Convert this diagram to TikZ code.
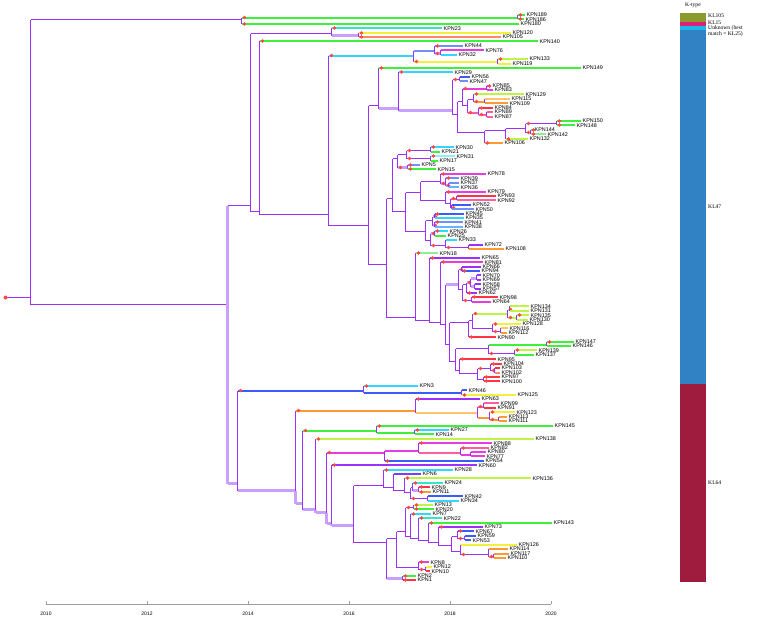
\documentclass[tikz,border=0pt]{standalone}
\usepackage{fontspec}
\setmainfont{Liberation Serif}
\newfontfamily\lsans{Liberation Sans}
\definecolor{cpv}{HTML}{9B30FF}
\definecolor{clav}{HTML}{C9A0FF}
\definecolor{cgreen}{HTML}{3CF03C}
\definecolor{clgreen}{HTML}{90EE90}
\definecolor{cygreen}{HTML}{BFF542}
\definecolor{cyellow}{HTML}{F2F03C}
\definecolor{clor}{HTML}{FFC470}
\definecolor{corange}{HTML}{FF9A33}
\definecolor{csalmon}{HTML}{FF8866}
\definecolor{cred}{HTML}{FF3344}
\definecolor{cpink}{HTML}{FF5FA0}
\definecolor{cmag}{HTML}{E83CE0}
\definecolor{cblue}{HTML}{3B5BFF}
\definecolor{clblue}{HTML}{6F8FFF}
\definecolor{csky}{HTML}{66B3FF}
\definecolor{ccyan}{HTML}{33D6FF}
\definecolor{clcyan}{HTML}{8FF0FF}
\definecolor{cteal}{HTML}{33E6C8}
\definecolor{cviol}{HTML}{7B3DFF}
\definecolor{cdot}{HTML}{FF4848}
\definecolor{kA}{HTML}{8B9A2D}
\definecolor{kB}{HTML}{DD1F7C}
\definecolor{kC}{HTML}{1FB6E9}
\definecolor{kD}{HTML}{3182C4}
\definecolor{kE}{HTML}{A01C3E}
\tikzset{
  vl/.style={draw=cpv,line width=1pt},
  pv/.style={draw=cpv,line width=1pt},
  lav/.style={draw=clav,line width=2.2pt},
  tw/.style={line width=2pt},
  eG/.style={draw=cgreen,tw}, eLG/.style={draw=clgreen,tw},
  eYG/.style={draw=cygreen,tw}, eY/.style={draw=cyellow,tw},
  eLO/.style={draw=clor,tw}, eOR/.style={draw=corange,tw},
  eSA/.style={draw=csalmon,tw}, eR/.style={draw=cred,tw},
  ePK/.style={draw=cpink,tw}, eMG/.style={draw=cmag,tw},
  eB/.style={draw=cblue,tw}, eLB/.style={draw=clblue,tw},
  eSK/.style={draw=csky,tw}, eC/.style={draw=ccyan,tw},
  eLC/.style={draw=clcyan,tw}, eTL/.style={draw=cteal,tw},
  eVI/.style={draw=cviol,tw}, ePU/.style={draw=cpv,tw},
  lab/.style={anchor=west,inner sep=0pt,font=\lsans\fontsize{5.4}{6}\selectfont},
  klab/.style={anchor=west,inner sep=0pt,font=\fontsize{5.6}{6}\selectfont},
  axlab/.style={inner sep=0pt,font=\lsans\fontsize{5}{6}\selectfont},
}
\newcommand\T[3]{\coordinate (t#1) at (#3,{round(15+(#1-1)*4.414)});\node[lab] (l#1) at ({#3+1.5},{15+(#1-1)*4.414}) {#2};}
\newcommand\N[4]{\coordinate (#1) at ({#2+0.5},{round(15+((#3+#4)/2-1)*4.414)+0.5});}
\newcommand\E[3]{\draw[vl] (#1) -- (#1 |- #2);\draw[#3] (#1 |- #2) -- (#2);}
\newcommand\EV[4]{\draw[#3] (#1) -- (#1 |- #2);\draw[#4] (#1 |- #2) -- (#2);}
\newcommand\ED[3]{\E{#1}{#2}{#3}\fill[cdot] (#1 |- #2) ++(3,0) circle[radius=1.8pt];}
\begin{document}
\begin{tikzpicture}[x=1pt,y=-1pt]
\useasboundingbox (0,0) rectangle (760,621);
\fill[white] (0,0) rectangle (760,621);
% tips
\T{1}{KPN189}{525}\T{2}{KPN186}{524}\T{3}{KPN180}{519}\T{4}{KPN23}{442}
\T{5}{KPN120}{511}\T{6}{KPN105}{501}\T{7}{KPN140}{538}\T{8}{KPN44}{463}
\T{9}{KPN76}{484}\T{10}{KPN32}{457}\T{11}{KPN133}{528}\T{12}{KPN119}{511}
\T{13}{KPN149}{581}\T{14}{KPN29}{453}\T{15}{KPN56}{470}\T{16}{KPN47}{468}
\T{17}{KPN85}{491}\T{18}{KPN83}{493}\T{19}{KPN129}{524}\T{20}{KPN115}{510}
\T{21}{KPN109}{508}\T{22}{KPN84}{493}\T{23}{KPN89}{493}\T{24}{KPN87}{493}
\T{25}{KPN150}{581}\T{26}{KPN148}{575}\T{27}{KPN144}{533}\T{28}{KPN142}{546}
\T{29}{KPN132}{528}\T{30}{KPN106}{503}\T{31}{KPN30}{454}\T{32}{KPN21}{440}
\T{33}{KPN31}{455}\T{34}{KPN17}{438}\T{35}{KPN5}{420}\T{36}{KPN15}{436}
\T{37}{KPN78}{486}\T{38}{KPN39}{459}\T{39}{KPN37}{459}\T{40}{KPN36}{459}
\T{41}{KPN79}{486}\T{42}{KPN93}{496}\T{43}{KPN92}{496}\T{44}{KPN52}{471}
\T{45}{KPN50}{474}\T{46}{KPN45}{464}\T{47}{KPN35}{464}\T{48}{KPN41}{463}
\T{49}{KPN38}{463}\T{50}{KPN26}{448}\T{51}{KPN25}{446}\T{52}{KPN33}{457}
\T{53}{KPN72}{483}\T{54}{KPN108}{504}\T{55}{KPN18}{438}\T{56}{KPN65}{480}
\T{57}{KPN81}{483}\T{58}{KPN66}{481}\T{59}{KPN94}{480}\T{60}{KPN70}{481}
\T{61}{KPN69}{481}\T{62}{KPN58}{481}\T{63}{KPN57}{481}\T{64}{KPN62}{477}
\T{65}{KPN98}{498}\T{66}{KPN64}{491}\T{67}{KPN134}{529}\T{68}{KPN131}{529}
\T{69}{KPN135}{529}\T{70}{KPN130}{528}\T{71}{KPN128}{521}\T{72}{KPN116}{508}
\T{73}{KPN112}{507}\T{74}{KPN90}{496}\T{75}{KPN147}{574}\T{76}{KPN146}{571}
\T{77}{KPN139}{537}\T{78}{KPN137}{534}\T{79}{KPN95}{496}\T{80}{KPN104}{502}
\T{81}{KPN103}{500}\T{82}{KPN102}{500}\T{83}{KPN97}{500}\T{84}{KPN100}{500}
\T{85}{KPN3}{418}\T{86}{KPN46}{467}\T{87}{KPN125}{516}\T{88}{KPN63}{480}
\T{89}{KPN99}{499}\T{90}{KPN91}{496}\T{91}{KPN123}{515}\T{92}{KPN113}{507}
\T{93}{KPN111}{507}\T{94}{KPN145}{553}\T{95}{KPN27}{449}\T{96}{KPN14}{434}
\T{97}{KPN138}{534}\T{98}{KPN88}{492}\T{99}{KPN82}{489}\T{100}{KPN80}{486}
\T{101}{KPN77}{485}\T{102}{KPN54}{484}\T{103}{KPN60}{477}\T{104}{KPN28}{453}
\T{105}{KPN6}{421}\T{106}{KPN136}{531}\T{107}{KPN24}{443}\T{108}{KPN9}{430}
\T{109}{KPN11}{431}\T{110}{KPN42}{463}\T{111}{KPN34}{459}\T{112}{KPN13}{433}
\T{113}{KPN20}{434}\T{114}{KPN7}{431}\T{115}{KPN22}{442}\T{116}{KPN143}{552}
\T{117}{KPN73}{483}\T{118}{KPN67}{474}\T{119}{KPN59}{476}\T{120}{KPN53}{471}
\T{121}{KPN126}{517}\T{122}{KPN114}{508}\T{123}{KPN117}{509}\T{124}{KPN110}{506}
\T{125}{KPN8}{429}\T{126}{KPN12}{432}\T{127}{KPN10}{430}\T{128}{KPN2}{416}
\T{129}{KPN1}{416}
% internal nodes
\N{R}{5}{1}{129}\N{NO}{30}{1}{129}\N{TA}{241}{1}{3}\N{aa}{517}{1}{2}
\N{X}{227}{4}{129}\N{U}{250}{4}{84}\N{UA}{331}{4}{6}\N{nfs}{358}{5}{6}
\N{UB}{259}{7}{84}\N{UC}{328}{8}{84}\N{CF}{413}{8}{12}\N{nea}{434}{8}{10}
\N{neb}{440}{9}{10}\N{nec}{497}{11}{12}\N{M}{368}{13}{84}\N{UD}{378}{13}{30}
\N{WA}{398}{14}{30}\N{WB}{452}{15}{30}\N{nfa}{459}{15}{16}\N{A}{457}{17}{30}
\N{AA}{462}{17}{24}\N{nga}{486}{17}{18}\N{AB}{467}{19}{24}\N{ngb}{473}{19}{21}
\N{ngc}{484}{20}{21}\N{ngd}{478}{22}{24}\N{nge}{486}{23}{24}\N{AC}{484}{25}{30}
\N{B}{505}{25}{29}\N{C}{525}{25}{28}\N{nha}{556}{25}{26}\N{nhb}{530}{27}{28}
\N{WC}{386}{31}{84}\N{PA}{392}{31}{54}\N{QA}{397}{31}{36}\N{nia}{406}{31}{34}
\N{nib}{430}{31}{32}\N{nic}{430}{33}{34}\N{nid}{407}{35}{36}\N{QB}{405}{37}{54}
\N{RA}{420}{37}{45}\N{nja}{440}{37}{40}\N{njb}{445}{38}{40}\N{njc}{448}{39}{40}
\N{njd}{445}{41}{45}\N{nje}{450}{42}{45}\N{njf}{456}{42}{43}\N{njg}{451}{44}{45}
\N{RB}{425}{46}{54}\N{SA}{432}{46}{49}\N{nka}{434}{46}{47}\N{nkb}{434}{48}{49}
\N{SB}{430}{50}{54}\N{nkc}{434}{50}{51}\N{nkd}{445}{52}{54}\N{nke}{468}{53}{54}
\N{PB}{415}{55}{84}\N{PC}{429}{56}{84}\N{PD}{440}{57}{84}\N{PE}{445}{58}{84}
\N{TTa}{458}{58}{66}\N{nla}{461}{58}{59}\N{TTb}{462}{60}{66}\N{nlb}{466}{60}{64}
\N{nlc}{470}{60}{63}\N{nld}{476}{60}{61}\N{nle}{474}{62}{63}\N{nlf}{471}{65}{66}
\N{TTc}{449}{67}{84}\N{VA}{468}{67}{74}\N{VB}{472}{67}{73}\N{nma}{507}{67}{70}
\N{nmb}{509}{67}{68}\N{nmc}{516}{69}{70}\N{nmd}{492}{71}{73}\N{nme}{500}{72}{73}
\N{VC}{455}{75}{84}\N{VD}{488}{75}{78}\N{nna}{546}{75}{76}\N{nnb}{514}{77}{78}
\N{VE}{459}{79}{84}\N{nnc}{477}{80}{84}\N{nnd}{490}{80}{82}\N{nne}{494}{81}{82}
\N{nnf}{483}{83}{84}
\N{L}{237}{85}{129}\N{CT}{363}{85}{87}\N{noa}{461}{86}{87}\N{LB}{295}{88}{129}
\N{O}{415}{88}{93}\N{OB}{477}{89}{93}\N{npa}{483}{89}{90}\N{npb}{489}{91}{93}
\N{npc}{498}{92}{93}\N{LC}{302}{94}{129}\N{G}{376}{94}{96}\N{nqa}{414}{95}{96}
\N{LD}{315}{97}{129}\N{LE}{326}{98}{129}\N{H}{384}{98}{102}\N{HA}{418}{98}{101}
\N{nra}{460}{99}{101}\N{nrb}{470}{100}{101}\N{LF}{331}{103}{129}\N{LG}{353}{104}{129}
\N{KA}{383}{104}{111}\N{KB}{393}{105}{111}\N{KC}{404}{106}{111}\N{KD}{410}{107}{111}
\N{nsa}{412}{107}{109}\N{nsb}{418}{108}{109}\N{nsc}{427}{110}{111}
\N{KE}{386}{112}{129}\N{KF}{396}{112}{127}\N{KG}{405}{112}{124}\N{nta}{413}{112}{113}
\N{KH}{410}{114}{124}\N{KI}{418}{115}{124}\N{KJ}{428}{116}{124}\N{KK}{438}{117}{124}
\N{KL}{451}{118}{124}\N{nua}{457}{118}{120}\N{nub}{464}{119}{120}\N{nuc}{460}{121}{124}
\N{nud}{488}{122}{124}\N{nue}{493}{123}{124}\N{nva}{418}{125}{127}\N{nvb}{425}{126}{127}
\N{nvc}{402}{128}{129}
% root
\draw[pv] (R) -- (NO);
\fill[cdot] (R) circle[radius=2pt];
\E{NO}{TA}{pv}\E{NO}{X}{pv}
\ED{TA}{aa}{eG}\ED{TA}{t3}{eG}\ED{aa}{t1}{eG}\ED{aa}{t2}{eG}
\EV{X}{U}{lav}{pv}\EV{X}{L}{lav}{lav}
\E{U}{UA}{pv}\E{U}{UB}{pv}
\ED{UA}{t4}{eTL}\E{UA}{nfs}{lav}\ED{nfs}{t5}{eY}\ED{nfs}{t6}{eSA}
\ED{UB}{t7}{eG}\E{UB}{UC}{pv}
\ED{UC}{CF}{eC}\E{UC}{M}{pv}
\E{CF}{nea}{eLB}\ED{CF}{nec}{eY}
\ED{nea}{t8}{eLB}\ED{nea}{neb}{lav}\E{neb}{t9}{eMG}\E{neb}{t10}{eC}
\ED{nec}{t11}{eYG}\E{nec}{t12}{eY}
\E{M}{UD}{pv}\E{M}{WC}{pv}
\ED{UD}{t13}{eG}\E{UD}{WA}{lav}
\ED{WA}{t14}{eC}\E{WA}{WB}{lav}
\ED{WB}{nfa}{pv}\E{WB}{A}{pv}
\E{nfa}{t15}{eB}\E{nfa}{t16}{eLB}
\E{A}{AA}{pv}\E{A}{AC}{pv}
\ED{AA}{nga}{eMG}\E{AA}{AB}{pv}
\ED{nga}{t17}{eMG}\E{nga}{t18}{eMG}
\E{AB}{ngb}{pv}\ED{AB}{ngd}{ePK}
\ED{ngb}{t19}{eYG}\ED{ngb}{ngc}{eOR}\E{ngc}{t20}{eLO}\E{ngc}{t21}{eOR}
\ED{ngd}{t22}{eR}\ED{ngd}{nge}{ePK}\E{nge}{t23}{ePK}\E{nge}{t24}{ePK}
\E{AC}{B}{pv}\ED{AC}{t30}{eOR}
\E{B}{C}{pv}\ED{B}{t29}{eYG}
\ED{C}{nha}{pv}\ED{C}{nhb}{pv}
\ED{nha}{t25}{eG}\ED{nha}{t26}{eG}\ED{nhb}{t27}{eG}\ED{nhb}{t28}{eLG}
\E{WC}{PA}{pv}\E{WC}{PB}{pv}
\E{PA}{QA}{pv}\E{PA}{QB}{pv}
\E{QA}{nia}{pv}\ED{QA}{nid}{lav}
\ED{nia}{nib}{pv}\ED{nia}{nic}{pv}
\ED{nib}{t31}{eC}\E{nib}{t32}{eG}\ED{nic}{t33}{eLC}\E{nic}{t34}{eG}
\ED{nid}{t35}{eLB}\ED{nid}{t36}{eG}
\E{QB}{RA}{pv}\E{QB}{RB}{pv}
\E{RA}{nja}{pv}\E{RA}{njd}{pv}
\ED{nja}{t37}{eMG}\ED{nja}{njb}{lav}
\ED{njb}{t38}{eLB}\ED{njb}{njc}{lav}\E{njc}{t39}{eLB}\E{njc}{t40}{eSK}
\ED{njd}{t41}{eMG}\E{njd}{nje}{pv}
\ED{nje}{njf}{ePK}\ED{nje}{njg}{lav}
\E{njf}{t42}{eR}\E{njf}{t43}{ePK}\E{njg}{t44}{eB}\E{njg}{t45}{eLB}
\E{RB}{SA}{pv}\E{RB}{SB}{pv}
\ED{SA}{nka}{lav}\ED{SA}{nkb}{lav}
\ED{nka}{t46}{eB}\E{nka}{t47}{eC}\ED{nkb}{t48}{eLB}\E{nkb}{t49}{eSK}
\ED{SB}{nkc}{lav}\ED{SB}{nkd}{pv}
\ED{nkc}{t50}{eC}\E{nkc}{t51}{eG}
\E{nkd}{t52}{eC}\ED{nkd}{nke}{pv}\E{nke}{t53}{ePU}\E{nke}{t54}{eOR}
\ED{PB}{t55}{eLG}\E{PB}{PC}{pv}
\ED{PC}{t56}{ePU}\E{PC}{PD}{pv}
\ED{PD}{t57}{eMG}\E{PD}{PE}{pv}
\E{PE}{TTa}{lav}\E{PE}{TTc}{pv}
\ED{TTa}{nla}{pv}\E{TTa}{TTb}{pv}
\E{nla}{t58}{ePU}\ED{nla}{t59}{eB}
\E{TTb}{nlb}{pv}\ED{TTb}{nlf}{pv}
\ED{nlb}{nlc}{lav}\ED{nlb}{t64}{ePU}
\E{nlc}{nld}{lav}\E{nlc}{nle}{lav}
\E{nld}{t60}{ePU}\E{nld}{t61}{ePU}\E{nle}{t62}{ePU}\E{nle}{t63}{ePU}
\ED{nlf}{t65}{eR}\E{nlf}{t66}{eMG}
\E{TTc}{VA}{pv}\E{TTc}{VC}{pv}
\E{VA}{VB}{pv}\ED{VA}{t74}{eR}
\ED{VB}{nma}{eYG}\E{VB}{nmd}{pv}
\ED{nma}{nmb}{eYG}\ED{nma}{nmc}{eYG}
\E{nmb}{t67}{eYG}\E{nmb}{t68}{eYG}\ED{nmc}{t69}{eYG}\E{nmc}{t70}{eYG}
\ED{nmd}{t71}{eY}\ED{nmd}{nme}{pv}\E{nme}{t72}{eLO}\E{nme}{t73}{eOR}
\E{VC}{VD}{pv}\E{VC}{VE}{pv}
\E{VD}{nna}{eG}\ED{VD}{nnb}{pv}
\ED{nna}{t75}{eG}\E{nna}{t76}{eG}\ED{nnb}{t77}{eYG}\E{nnb}{t78}{eG}
\ED{VE}{t79}{eR}\E{VE}{nnc}{pv}
\ED{nnc}{nnd}{pv}\E{nnc}{nnf}{pv}
\ED{nnd}{t80}{eR}\ED{nnd}{nne}{pv}\E{nne}{t81}{eR}\E{nne}{t82}{eSA}
\ED{nnf}{t83}{eR}\ED{nnf}{t84}{eR}
\ED{L}{CT}{eB}\E{L}{LB}{lav}
\ED{CT}{t85}{eC}\E{CT}{noa}{eB}\E{noa}{t86}{eB}\ED{noa}{t87}{eY}
\ED{LB}{O}{eOR}\EV{LB}{LC}{lav}{lav}
\ED{O}{t88}{ePU}\E{O}{OB}{eLO}
\ED{OB}{npa}{ePK}\E{OB}{npb}{eOR}
\E{npa}{t89}{ePK}\E{npa}{t90}{eR}
\ED{npb}{t91}{eY}\ED{npb}{npc}{eOR}\E{npc}{t92}{eOR}\E{npc}{t93}{eOR}
\ED{LC}{G}{eG}\E{LC}{LD}{lav}
\ED{G}{t94}{eG}\E{G}{nqa}{eG}\ED{nqa}{t95}{eC}\E{nqa}{t96}{eG}
\ED{LD}{t97}{eYG}\EV{LD}{LE}{lav}{lav}
\ED{LE}{H}{eMG}\EV{LE}{LF}{lav}{lav}
\E{H}{HA}{eMG}\ED{H}{t102}{eB}
\ED{HA}{t98}{eMG}\E{HA}{nra}{ePK}
\ED{nra}{t99}{ePK}\E{nra}{nrb}{eMG}\E{nrb}{t100}{eMG}\E{nrb}{t101}{eMG}
\ED{LF}{t103}{ePU}\EV{LF}{LG}{lav}{lav}
\E{LG}{KA}{pv}\E{LG}{KE}{pv}
\ED{KA}{t104}{eC}\E{KA}{KB}{pv}
\E{KB}{t105}{eVI}\E{KB}{KC}{pv}
\ED{KC}{t106}{eYG}\E{KC}{KD}{pv}
\E{KD}{nsa}{pv}\ED{KD}{nsc}{pv}
\ED{nsa}{t107}{eTL}\E{nsa}{nsb}{lav}
\ED{nsb}{t108}{eR}\ED{nsb}{t109}{eOR}
\E{nsc}{t110}{eB}\E{nsc}{t111}{eC}
\E{KE}{KF}{pv}\E{KE}{nvc}{lav}
\E{KF}{KG}{pv}\E{KF}{nva}{pv}
\ED{KG}{nta}{pv}\E{KG}{KH}{pv}
\ED{nta}{t112}{eYG}\ED{nta}{t113}{eG}
\ED{KH}{t114}{eC}\E{KH}{KI}{pv}
\ED{KI}{t115}{eTL}\E{KI}{KJ}{pv}
\ED{KJ}{t116}{eG}\E{KJ}{KK}{pv}
\ED{KK}{t117}{ePU}\E{KK}{KL}{pv}
\E{KL}{nua}{pv}\E{KL}{nuc}{pv}
\ED{nua}{t118}{eB}\ED{nua}{nub}{pv}\E{nub}{t119}{eB}\E{nub}{t120}{eB}
\E{nuc}{t121}{eY}\ED{nuc}{nud}{pv}
\E{nud}{t122}{eOR}\ED{nud}{nue}{eOR}\E{nue}{t123}{eOR}\E{nue}{t124}{eOR}
\ED{nva}{t125}{eMG}\ED{nva}{nvb}{pv}\E{nvb}{t126}{eY}\E{nvb}{t127}{eR}
\ED{nvc}{t128}{eG}\ED{nvc}{t129}{eR}
% K-type column
\node[inner sep=0pt,font=\fontsize{5.6}{6}\selectfont] (kt) at (693,5) {K-type};
\fill[kA] (680,12.8) rectangle (706,21.6);
\fill[kB] (680,21.6) rectangle (706,26.0);
\fill[kC] (680,26.0) rectangle (706,30.4);
\fill[kD] (680,30.4) rectangle (706,383.6);
\fill[kE] (680,383.6) rectangle (706,582.2);
\node[klab] (k1) at (708,16) {KL105};
\node[klab] (k2) at (708,22.5) {KL15};
\node[klab] (k3) at (708,28) {Unknown (best};
\node[klab] (k4) at (708,34) {match = KL25)};
\node[klab] (k5) at (708,207) {KL47};
\node[klab] (k6) at (708,483) {KL64};
% axis
\draw[gray!75,line width=0.7pt] (46,604) -- (551,604);
\foreach \yr [count=\k from 0] in {2010,2012,2014,2016,2018,2020}{
  \draw[gray!75,line width=0.6pt] ({46+\k*101},604) -- ({46+\k*101},601);
  \node[axlab] (ax\k) at ({46+\k*101},614) {\yr};
}
\end{tikzpicture}
\end{document}
